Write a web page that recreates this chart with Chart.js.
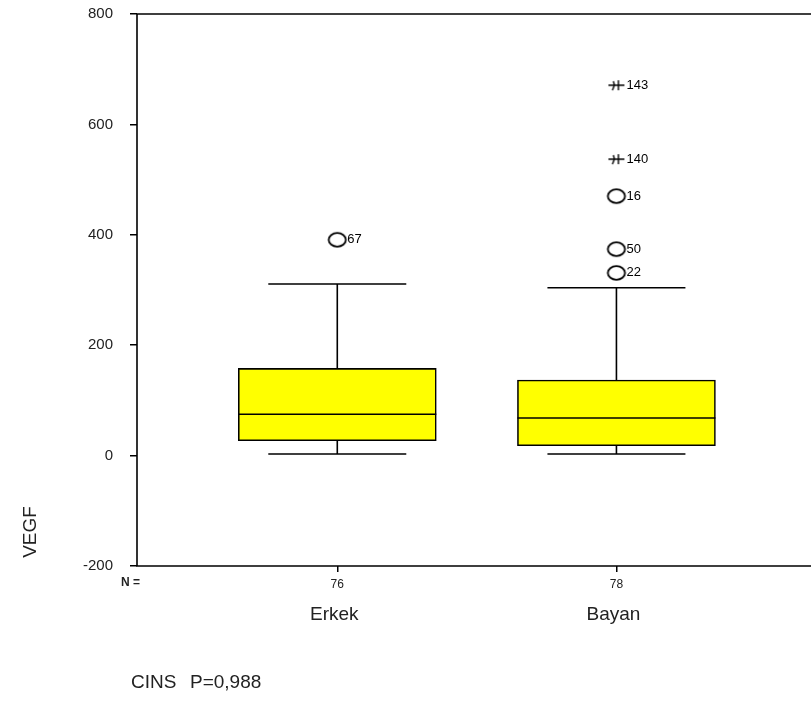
<!DOCTYPE html>
<html>
<head>
<meta charset="utf-8">
<script src="https://cdn.jsdelivr.net/npm/chart.js@4.4.0/dist/chart.umd.min.js"></script>
<style>
  html, body { margin: 0; padding: 0; background: #fff; }
  #wrap { width: 811px; height: 702px; }
</style>
</head>
<body>
<div id="wrap"><canvas id="vegfChart" width="811" height="702"></canvas></div>
<script>
// VEGF by CINS (box plot, SPSS style)
const categories = ['Erkek', 'Bayan'];
const nValues = [76, 78];
const q1 = [27, 18];
const q3 = [158, 137];
const medians = [75, 68];
const whiskerLow = [3, 3];
const whiskerHigh = [311, 304];
// outliers: value, case id, kind (o = outlier, * = extreme)
const outlierValues = [[391], [331, 374, 470, 537, 671]];
const outlierIds = [['67'], ['22', '50', '16', '140', '143']];
const outlierKinds = [['o'], ['o', 'o', 'o', '*', '*']];
const yTicks = [-200, 0, 200, 400, 600, 800];

const FONT = "'Liberation Sans', Arial, sans-serif";
const NARROW = "'Liberation Sans Narrow', 'Arial Narrow', 'Liberation Sans', sans-serif";

// marker images
function makeCircle() {
  const c = document.createElement('canvas');
  c.width = 22; c.height = 18;
  const g = c.getContext('2d');
  g.strokeStyle = '#000'; g.lineWidth = 1.8;
  g.beginPath();
  g.ellipse(11, 9, 8.6, 6.8, 0, 0, Math.PI * 2);
  g.stroke();
  return c;
}
function makeStar() {
  const c = document.createElement('canvas');
  c.width = 18; c.height = 14;
  const g = c.getContext('2d');
  g.strokeStyle = '#000'; g.lineWidth = 1.4;
  g.beginPath();
  g.moveTo(1, 7); g.lineTo(17, 7);
  g.moveTo(6, 3); g.lineTo(7, 7); g.lineTo(5, 12);
  g.moveTo(11, 2); g.lineTo(11, 12);
  g.stroke();
  return c;
}
const circleImg = makeCircle();
const starImg = makeStar();

const outlierPoints = [];
const outlierStyles = [];
outlierValues.forEach((vals, i) => {
  vals.forEach((v, j) => {
    outlierPoints.push({ x: i + 1, y: v, id: outlierIds[i][j] });
    outlierStyles.push(outlierKinds[i][j] === '*' ? starImg : circleImg);
  });
});

const boxExtras = {
  id: 'boxExtras',
  beforeDatasetsDraw(chart) {
    const { ctx, chartArea, scales: { x, y } } = chart;
    ctx.save();
    ctx.strokeStyle = '#000';
    ctx.lineWidth = 1.6;
    const capHalf = 69;
    categories.forEach((c, i) => {
      const px = x.getPixelForValue(i + 1);
      ctx.beginPath();
      ctx.moveTo(px, y.getPixelForValue(q3[i]));
      ctx.lineTo(px, y.getPixelForValue(whiskerHigh[i]));
      ctx.moveTo(px, y.getPixelForValue(q1[i]));
      ctx.lineTo(px, y.getPixelForValue(whiskerLow[i]));
      ctx.moveTo(px - capHalf, y.getPixelForValue(whiskerHigh[i]));
      ctx.lineTo(px + capHalf, y.getPixelForValue(whiskerHigh[i]));
      ctx.moveTo(px - capHalf, y.getPixelForValue(whiskerLow[i]));
      ctx.lineTo(px + capHalf, y.getPixelForValue(whiskerLow[i]));
      ctx.stroke();
    });
    // frame: top, left and bottom (right side is cut off)
    ctx.beginPath();
    ctx.moveTo(811, chartArea.top);
    ctx.lineTo(chartArea.left, chartArea.top);
    ctx.lineTo(chartArea.left, chartArea.bottom);
    ctx.lineTo(811, chartArea.bottom);
    ctx.stroke();
    ctx.restore();
  },
  afterDatasetsDraw(chart) {
    const { ctx, chartArea, scales: { x, y } } = chart;
    ctx.save();
    ctx.strokeStyle = '#000';
    ctx.lineWidth = 1.6;
    const half = 99;
    categories.forEach((c, i) => {
      const px = x.getPixelForValue(i + 1);
      const py = y.getPixelForValue(medians[i]);
      ctx.beginPath();
      ctx.moveTo(px - half, py);
      ctx.lineTo(px + half, py);
      ctx.stroke();
    });
    // outlier case labels
    ctx.fillStyle = '#000';
    ctx.font = '13px ' + NARROW;
    ctx.textBaseline = 'middle';
    ctx.textAlign = 'left';
    outlierPoints.forEach(p => {
      ctx.fillText(p.id, x.getPixelForValue(p.x) + 10, y.getPixelForValue(p.y));
    });
    // N row and category names
    ctx.textAlign = 'center';
    ctx.fillStyle = '#222';
    categories.forEach((c, i) => {
      const px = x.getPixelForValue(i + 1);
      ctx.font = '12px ' + NARROW;
      ctx.fillText(String(nValues[i]), px, chartArea.bottom + 19);
      ctx.font = '19px ' + FONT;
      ctx.fillText(c, px - 3, chartArea.bottom + 49);
    });
    ctx.font = 'bold 12px ' + NARROW;
    ctx.textAlign = 'left';
    ctx.fillText('N =', 121, chartArea.bottom + 17);
    // y title
    ctx.save();
    ctx.translate(31, 532);
    ctx.rotate(-Math.PI / 2);
    ctx.textAlign = 'center';
    ctx.font = '19px ' + FONT;
    ctx.fillText('VEGF', 0, 0);
    ctx.restore();
    // footer
    ctx.textAlign = 'left';
    ctx.font = '19px ' + FONT;
    ctx.fillText('CINS', 131, 683);
    ctx.fillText('P=0,988', 190, 683);
    ctx.restore();
  }
};

const ctx = document.getElementById('vegfChart').getContext('2d');
const vegfChart = new Chart(ctx, {
  data: {
    datasets: [{
      type: 'bar',
      label: 'Box',
      data: categories.map((c, i) => ({ x: i + 1, y: [q1[i], q3[i]] })),
      backgroundColor: '#ffff00',
      borderColor: '#000',
      borderWidth: 1.6,
      borderSkipped: false,
      barThickness: 198
    }, {
      type: 'scatter',
      label: 'Outliers',
      data: outlierPoints,
      pointStyle: outlierStyles,
      pointRadius: 8
    }]
  },
  options: {
    responsive: false,
    animation: false,
    layout: { autoPadding: false, padding: { left: 0, right: 0, top: 14, bottom: 0 } },
    plugins: { legend: { display: false }, tooltip: { enabled: false } },
    scales: {
      x: {
        type: 'linear',
        offset: false,
        min: 0.2825,
        max: 2.697,
        afterBuildTicks: s => { s.ticks = [{ value: 1 }, { value: 2 }]; },
        afterFit: s => { s.height = 136; s.paddingLeft = 0; s.paddingRight = 0; },
        border: { display: false },
        grid: { offset: false, drawOnChartArea: false, tickLength: 6, color: '#000', lineWidth: 1.5 },
        ticks: { display: false }
      },
      y: {
        min: -200,
        max: 800,
        afterBuildTicks: s => { s.ticks = yTicks.map(v => ({ value: v })); },
        afterFit: s => { s.width = 137; s.paddingTop = 0; s.paddingBottom = 0; },
        border: { display: false },
        grid: { drawOnChartArea: false, tickLength: 7, color: '#000', lineWidth: 1.5 },
        ticks: { color: '#222', font: { family: FONT, size: 15 }, padding: 17 }
      }
    }
  },
  plugins: [boxExtras]
});
</script>
</body>
</html>
